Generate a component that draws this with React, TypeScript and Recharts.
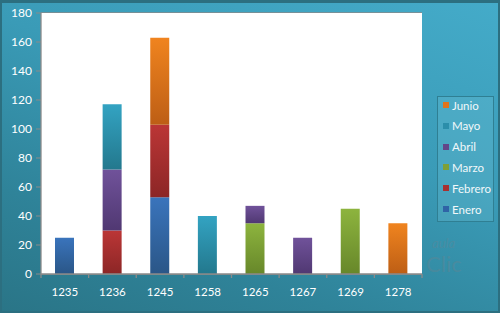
import { BarChart, Bar, XAxis, YAxis, CartesianGrid } from 'recharts';

const codes = ['1235', '1236', '1245', '1258', '1265', '1267', '1269', '1278'];
const enero = [25, 0, 53, 0, 0, 0, 0, 0];
const febrero = [0, 30, 50, 0, 0, 0, 0, 0];
const marzo = [0, 0, 0, 0, 35, 0, 45, 0];
const abril = [0, 42, 0, 0, 12, 25, 0, 0];
const mayo = [0, 45, 0, 40, 0, 0, 0, 0];
const junio = [0, 0, 60, 0, 0, 0, 0, 35];
const yTicks = [0, 20, 40, 60, 80, 100, 120, 140, 160, 180];

const series = [
  { key: 'Enero', values: enero, top: '#3a74bc', bottom: '#2a5687', swatch: '#2f64a6' },
  { key: 'Febrero', values: febrero, top: '#bb3636', bottom: '#8c2626', swatch: '#a83030' },
  { key: 'Marzo', values: marzo, top: '#8db43e', bottom: '#67872a', swatch: '#7ea036' },
  { key: 'Abril', values: abril, top: '#70529a', bottom: '#503872', swatch: '#634689' },
  { key: 'Mayo', values: mayo, top: '#33a3c2', bottom: '#23788d', swatch: '#2b8eaa' },
  { key: 'Junio', values: junio, top: '#f0841f', bottom: '#bd5e15', swatch: '#e0741c' },
];

const data = codes.map((c, i) => {
  const row: any = { code: c };
  series.forEach((s) => {
    row[s.key] = s.values[i] || null;
  });
  return row;
});

const font = 'Lato, "Open Sans", sans-serif';
const gridGray = '#8a8a8a';

// category label plus the small tick marks at the band edges
const CodeTick = (props: any) => {
  const { x, y, payload, index, visibleTicksCount } = props;
  const half = payload.offset ?? 23.8;
  const last = index === (visibleTicksCount ?? codes.length) - 1;
  return (
    <g>
      <line x1={x - half} x2={x - half} y1={y} y2={y + 4} stroke={gridGray} strokeWidth={1.3} />
      {last && <line x1={x + half} x2={x + half} y1={y} y2={y + 4} stroke={gridGray} strokeWidth={1.3} />}
      <text x={x} y={y + 22} textAnchor="middle" fill="#ffffff" fontSize={11.5} fontFamily={font}>
        {payload.value}
      </text>
    </g>
  );
};

const Legend = () => (
  <div
    style={{
      position: 'absolute',
      left: 435,
      top: 93,
      width: 57,
      height: 126,
      border: '1px solid #2f7f93',
      background: 'rgba(120,200,220,0.25)',
      boxSizing: 'border-box',
      fontFamily: font,
      fontSize: 11.5,
      color: '#f2f8fa',
    }}
  >
    {[...series].reverse().map((s, i) => (
      <div
        key={s.key}
        style={{ position: 'absolute', left: 5, top: 1 + i * 20.8, display: 'flex', alignItems: 'center', height: 14 }}
      >
        <div style={{ width: 6, height: 6, background: s.swatch, marginRight: 3 }} />
        <span>{s.key}</span>
      </div>
    ))}
  </div>
);

export default function App() {
  return (
    <div
      style={{
        position: 'absolute',
        left: 0,
        top: 0,
        width: 500,
        height: 313,
        overflow: 'hidden',
        boxSizing: 'border-box',
        border: '2px solid #2c6f80',
        borderTopWidth: 3,
        background: 'linear-gradient(200deg, #44abc9 0%, #3a9bb7 40%, #2f8399 75%, #2a7587 100%)',
      }}
    >
      <div style={{ position: 'absolute', left: -2, top: -3 }}>
        <BarChart
          width={500}
          height={313}
          data={data}
          margin={{ top: 13, right: 78, left: 0, bottom: 0 }}
          barSize={19}
        >
          <defs>
            {series.map((s) => (
              <linearGradient key={s.key} id={`g-${s.key}`} x1="0" y1="0" x2="0" y2="1">
                <stop offset="0%" stopColor={s.top} />
                <stop offset="100%" stopColor={s.bottom} />
              </linearGradient>
            ))}
          </defs>
          <rect x={41} y={13} width={381} height={261} fill="#ffffff" />
          <CartesianGrid vertical={false} stroke={gridGray} strokeWidth={1.3} />
          <XAxis
            dataKey="code"
            height={39}
            axisLine={{ stroke: gridGray, strokeWidth: 1.3 }}
            tickLine={false}
            tickSize={0}
            tickMargin={0}
            interval={0}
            tick={<CodeTick />}
          />
          <YAxis
            width={41}
            domain={[0, 180]}
            ticks={yTicks}
            interval={0}
            tickSize={5}
            tickMargin={4}
            axisLine={{ stroke: gridGray, strokeWidth: 1.3 }}
            tickLine={{ stroke: gridGray }}
            tick={{ fill: '#ffffff', fontSize: 12, fontFamily: font }}
          />
          {series.map((s) => (
            <Bar key={s.key} dataKey={s.key} stackId="a" fill={`url(#g-${s.key})`} isAnimationActive={false} />
          ))}
        </BarChart>
      </div>
      <Legend />
      <div
        style={{
          position: 'absolute',
          left: 424,
          top: 234,
          fontFamily: font,
          color: 'rgba(110,130,140,0.35)',
          lineHeight: 1,
        }}
      >
        <div style={{ fontSize: 13, fontStyle: 'italic', marginLeft: 6, height: 16 }}>aula</div>
        <div style={{ fontSize: 22 }}>Clic</div>
      </div>
    </div>
  );
}
